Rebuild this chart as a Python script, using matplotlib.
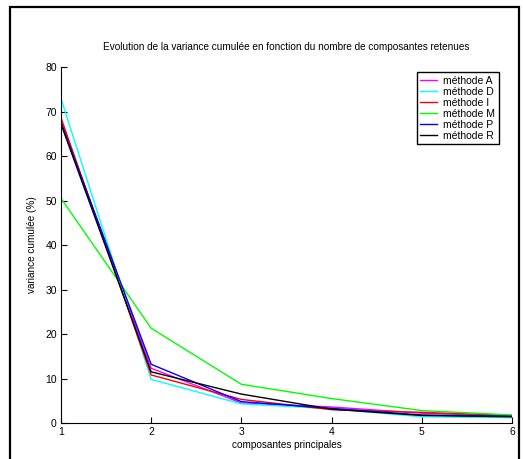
import matplotlib
matplotlib.use("Agg")
import matplotlib.pyplot as plt
from matplotlib.patches import Rectangle

plt.rcParams['font.family'] = ['Liberation Sans', 'DejaVu Sans']

# composantes principales
composantes = [1, 2, 3, 4, 5, 6]

# variance cumulee (%) par methode
methode_A = [68.0, 12.3, 4.5, 3.6, 2.2, 1.6]
methode_D = [72.9, 9.8, 4.3, 3.2, 1.4, 1.2]
methode_I = [68.6, 10.8, 5.3, 3.0, 2.4, 1.7]
methode_M = [50.5, 21.3, 8.7, 5.5, 2.8, 1.8]
methode_P = [67.5, 13.2, 4.8, 3.3, 1.8, 1.5]
methode_R = [67.2, 11.5, 6.5, 3.1, 1.7, 1.4]

series = [("méthode A", methode_A, "#ff00ff"),
          ("méthode D", methode_D, "#00ffff"),
          ("méthode I", methode_I, "#ff0000"),
          ("méthode M", methode_M, "#00ff00"),
          ("méthode P", methode_P, "#0000ff"),
          ("méthode R", methode_R, "#000000")]

fig = plt.figure(figsize=(5.23, 4.59), dpi=100)
ax = fig.add_axes([0.1166, 0.0784, 0.8623, 0.7756])

for nom, vals, col in series:
    ax.plot(composantes, vals, color=col, lw=1.0, label=nom)

ax.set_xlim(1, 6)
ax.set_ylim(0, 80)
ax.set_xticks(composantes)
ax.set_yticks(range(0, 81, 10))
ax.tick_params(direction='in', labelsize=7.5, length=4, width=0.8, pad=3)
for s in ['top', 'right']:
    ax.spines[s].set_visible(False)
for s in ['left', 'bottom']:
    ax.spines[s].set_linewidth(0.8)

ax.set_title("Evolution de la variance cumulée en fonction du nombre de composantes retenues",
             fontsize=7.2, pad=12)
ax.set_xlabel("composantes principales", fontsize=7.2, labelpad=2)
ax.set_ylabel("variance cumulée (%)", fontsize=7.2, labelpad=6)

leg = ax.legend(loc='upper right', bbox_to_anchor=(0.971, 0.986), borderaxespad=0,
                fontsize=7.5, handlelength=1.6, labelspacing=0.1, borderpad=0.35,
                handletextpad=0.6, fancybox=False, framealpha=1)
leg.get_frame().set_edgecolor('black')
leg.get_frame().set_linewidth(1.0)

# cadre autour de la figure
fig.patches.append(Rectangle((10 / 523, -0.01), 509 / 523, 1 - 7 / 459 + 0.01,
                             transform=fig.transFigure, fill=False,
                             edgecolor='black', lw=1.6))

fig.savefig("out.png", dpi=100)
